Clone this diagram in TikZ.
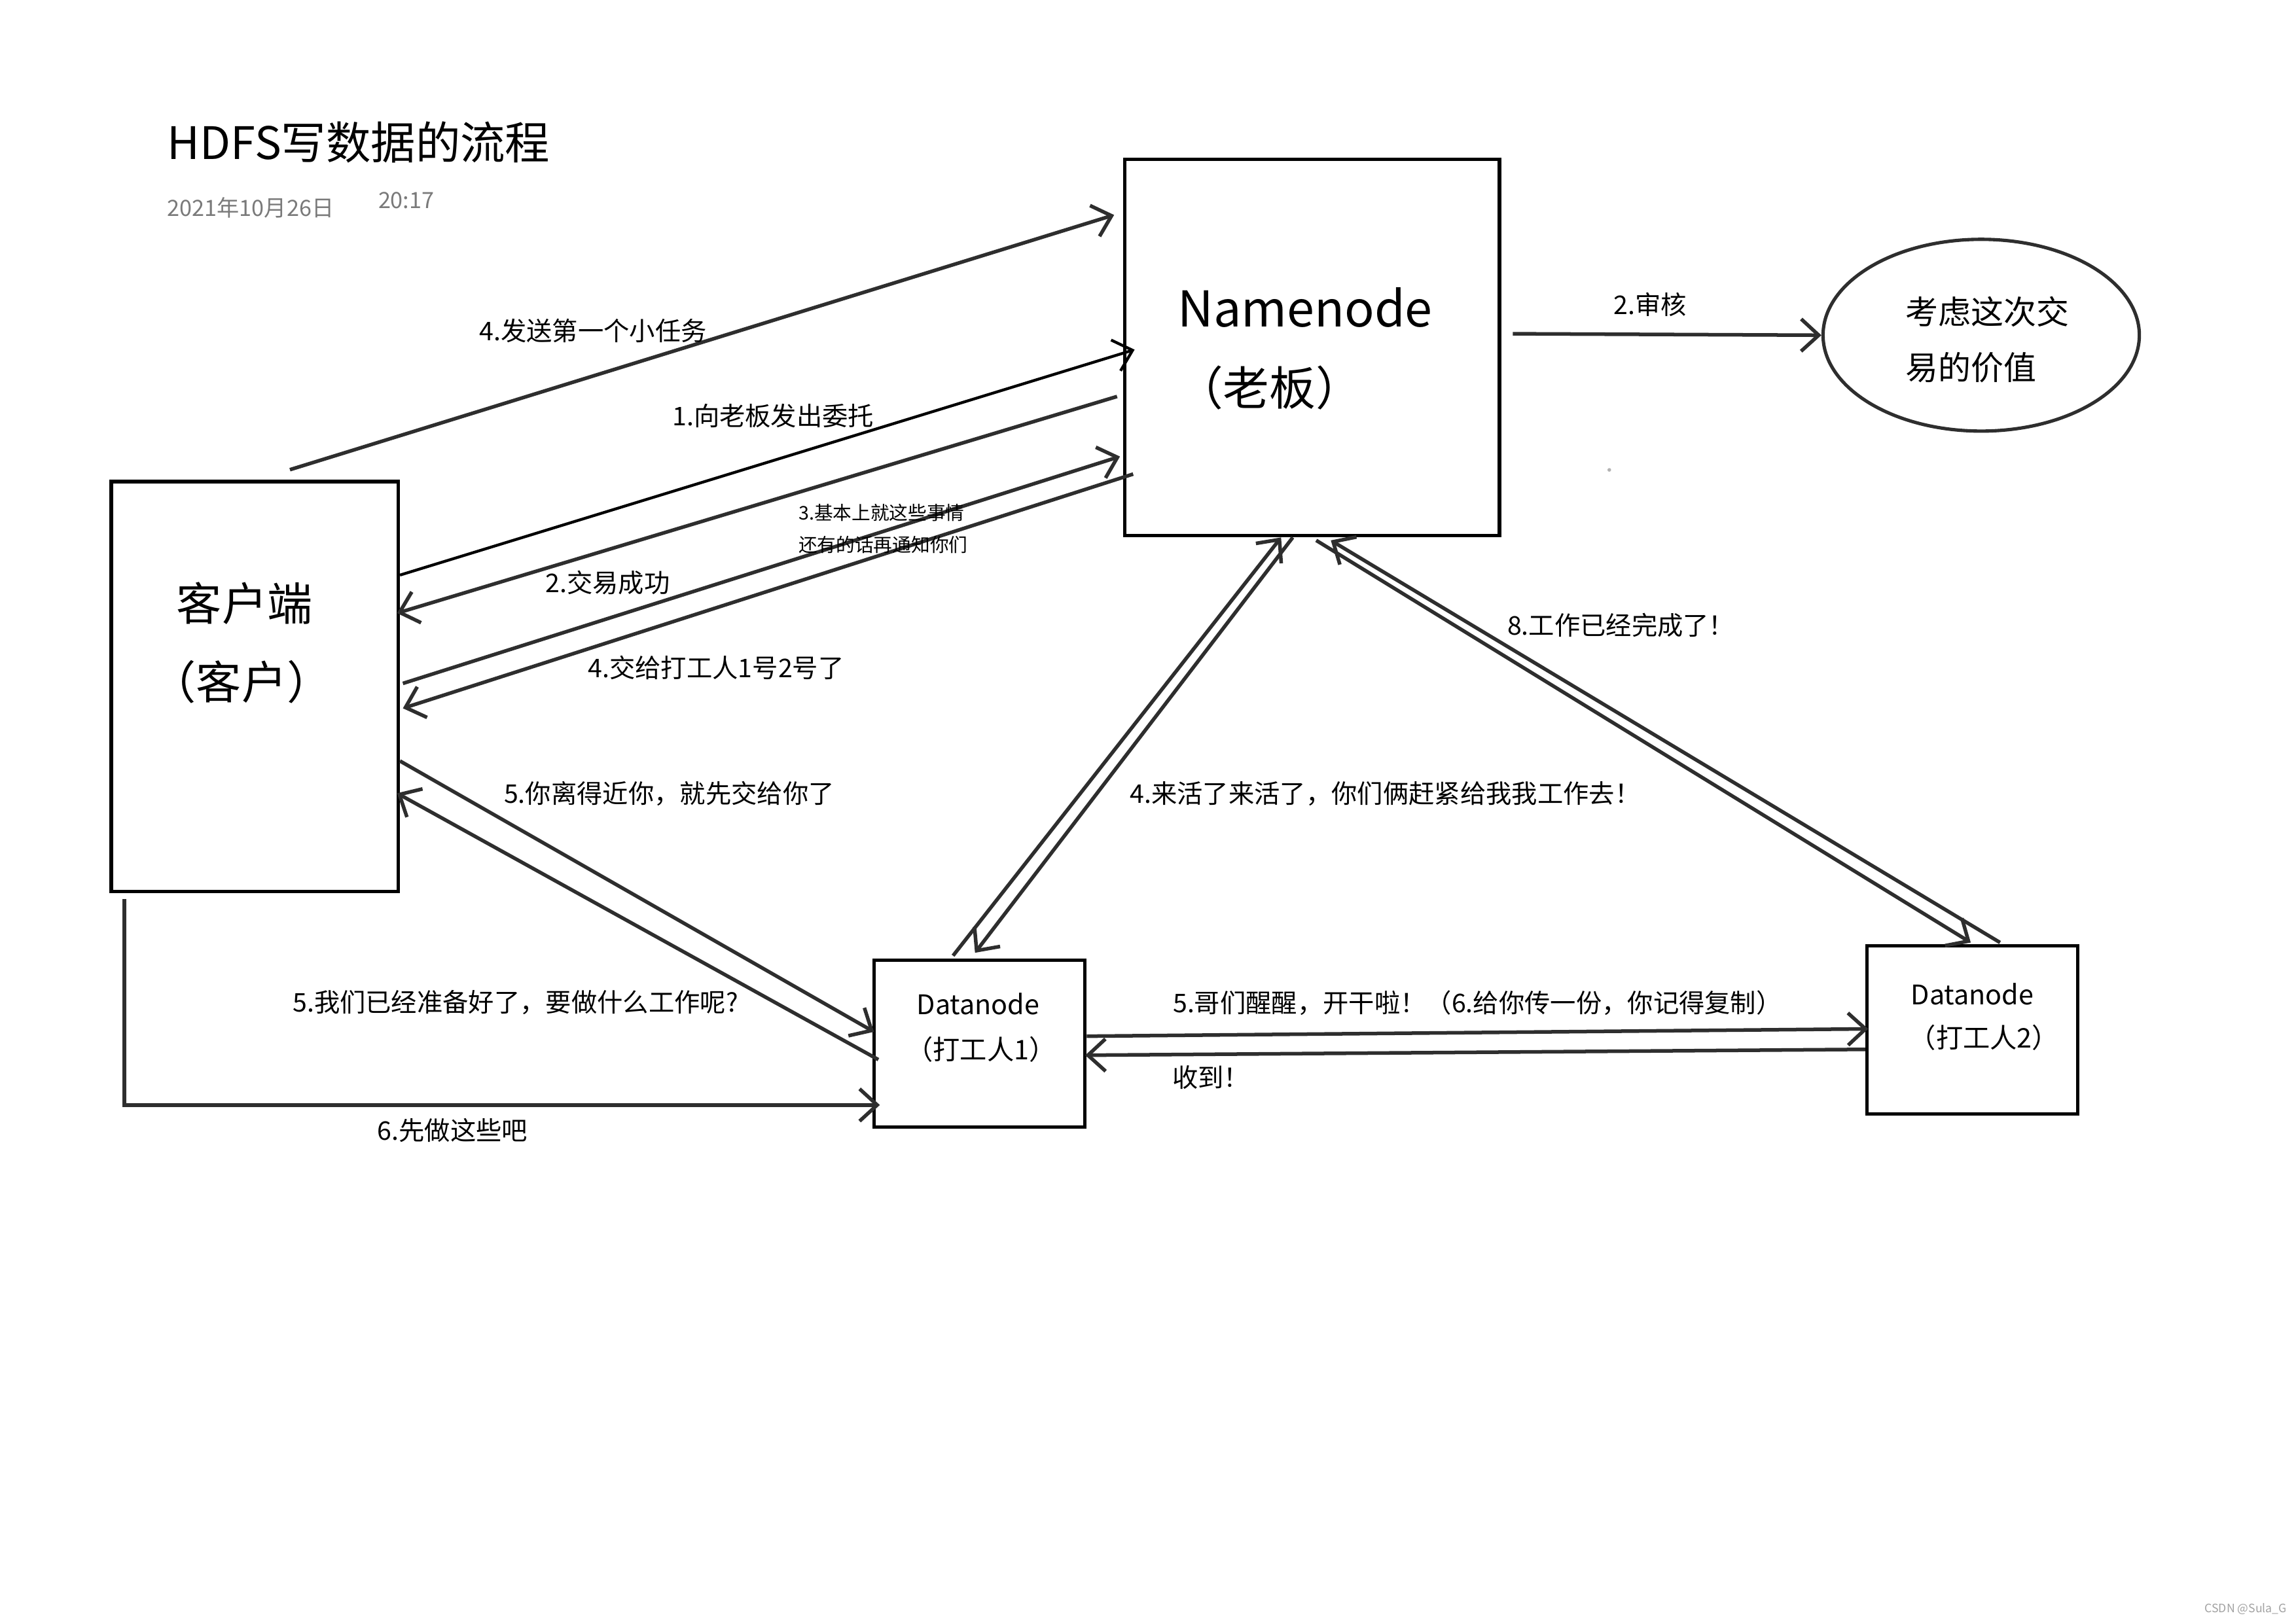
\documentclass[tikz,border=0pt]{standalone}
\usepackage{fontspec}
\newfontfamily\cjk{Noto Sans CJK SC}
\usetikzlibrary{arrows.meta,calc,shapes.geometric}
\definecolor{pline}{HTML}{2E2E2E}
\definecolor{pgray}{HTML}{7A7A7A}

\begin{document}
\begin{tikzpicture}[x=0.2mm,y=-0.2mm,font=\cjk\fontsize{10}{12}\selectfont,
  box/.style={rectangle,draw,line width=1.3pt,inner sep=0pt},
  lbl/.style={inner sep=0pt},
  ar/.style={-{Straight Barb[length=2.4mm,width=4.4mm]},line width=1.4pt,pline},
  arb/.style={-{Straight Barb[length=2.4mm,width=4.4mm]},line width=1.1pt,black}]
\fill[white] (0,0) rectangle (1568,1109);
\useasboundingbox (0,0) rectangle (1568,1109);
% --- heading ---
\node[lbl,anchor=west,font=\cjk\fontsize{17.4}{20}\selectfont] (title) at (114,97) {HDFS写数据的流程};
\node[lbl,anchor=west,text=pgray,font=\cjk\fontsize{8.7}{10}\selectfont] (date) at (114,142) {2021年10月26日};
\node[lbl,anchor=west,text=pgray,font=\cjk\fontsize{8.7}{10}\selectfont] (time) at (258,137) {20:17};
% --- boxes ---
\node[box,minimum width=39.2mm,minimum height=56mm] (client) at (174,469) {};
\node[box,minimum width=51.2mm,minimum height=51.4mm] (nn) at (896,237.5) {};
\node[box,minimum width=28.8mm,minimum height=22.8mm] (dn1) at (669,713) {};
\node[box,minimum width=28.8mm,minimum height=23mm] (dn2) at (1347,703.5) {};
\node[ellipse,draw,line width=1.3pt,pline,minimum width=43.2mm,minimum height=26.2mm] (ell) at (1353,229) {};
% --- box texts ---
\node[lbl,font=\cjk\fontsize{17.6}{20}\selectfont] (ctext) at (167,412) {客户端};
\node[lbl,font=\cjk\fontsize{17.6}{20}\selectfont] (crole) at (165,466) {（客户）};
\node[lbl,anchor=west,font=\cjk\fontsize{19.2}{23}\selectfont] (nntext) at (804,210) {Namenode};
\node[lbl,font=\cjk\fontsize{18}{22}\selectfont] (nnrole) at (867,265) {（老板）};
\node[lbl,anchor=west,align=left,font=\cjk\fontsize{12.7}{21.6}\selectfont] (elltext) at (1301,232) {考虑这次交\\易的价值};
\node[lbl,font=\cjk\fontsize{10.5}{12}\selectfont] (d1text) at (668,686) {Datanode};
\node[lbl,font=\cjk\fontsize{10.5}{12}\selectfont] (d1role) at (670,717) {（打工人1）};
\node[lbl,font=\cjk\fontsize{10.5}{12}\selectfont] (d2text) at (1347,679) {Datanode};
\node[lbl,font=\cjk\fontsize{10.5}{12}\selectfont] (d2role) at (1355,709) {（打工人2）};
% --- client <-> namenode ---
\draw[ar] ($(client.north)+(24,-7)$) -- ($(nn.north west)+(-6,39)$);
\draw[arb] ($(client.north east)+(0,65)$) -- ($(nn.north west)+(8,131)$);
\draw[ar] ($(nn.north west)+(-4,163)$) -- ($(client.north east)+(-2,91)$);
\draw[ar] ($(client.north east)+(2,139)$) -- ($(nn.north west)+(-2,204)$);
\draw[ar] ($(nn.north west)+(7,216)$) -- ($(client.north east)+(2,156)$);
\node[lbl] (l4a) at (405,226) {4.发送第一个小任务};
\node[lbl] (l1) at (528,284) {1.向老板发出委托};
\node[lbl] (l2) at (415,398) {2.交易成功};
\node[lbl,anchor=west,align=left,font=\cjk\fontsize{7.3}{12.5}\selectfont] (l3) at (545,361) {3.基本上就这些事情\\还有的话再通知你们};
\node[lbl] (l4b) at (489,456) {4.交给打工人1号2号了};
\draw[ar] ($(nn.east)+(8,-9.5)$) -- (ell.west);
\node[lbl] (l2b) at (1127,208) {2.审核};
% --- client <-> datanode 1 ---
\draw[ar] ($(client.north east)+(0,192)$) -- ($(dn1.north west)+(1,50)$);
\draw[ar] ($(dn1.north west)+(4,69)$) -- ($(client.north east)+(-2,214)$);
\draw[ar] ($(client.south west)+(10,4)$) |- ($(dn1.north west)+(5,100)$);
\node[lbl] (l5a) at (457,542) {5.你离得近你，就先交给你了};
\node[lbl] (l5b) at (352,685) {5.我们已经准备好了，要做什么工作呢?};
\node[lbl] (l6) at (309,772) {6.先做这些吧};
% --- namenode <-> datanodes ---
\draw[ar] ($(nn.south west)+(116,0)$) -- ($(dn1.north west)+(70,-4)$);
\draw[ar] ($(dn1.north west)+(55,-2)$) -- ($(nn.south west)+(108,0)$);
\draw[ar] ($(nn.south west)+(132,2)$) -- ($(dn2.north west)+(72,-1)$);
\draw[ar] ($(dn2.north west)+(92,-1)$) -- ($(nn.south west)+(142,2)$);
\node[lbl] (l4c) at (946,542) {4.来活了来活了，你们俩赶紧给我我工作去！};
\node[lbl] (l8) at (1107,427) {8.工作已经完成了！};
% --- datanode 1 <-> datanode 2 ---
\draw[ar] ($(dn1.north east)+(0,53)$) -- ($(dn2.north west)+(2,58)$);
\draw[ar] ($(dn2.north west)+(0,72)$) -- ($(dn1.north east)+(-1,66)$);
\node[lbl] (l5c) at (1009,685) {5.哥们醒醒，开干啦！（6.给你传一份，你记得复制）};
\node[lbl] (lok) at (827,736) {收到！};
% --- marks ---
\fill[gray!60] (1099,321) circle (0.25mm);
\node[lbl,anchor=east,text=pgray!70,font=\cjk\fontsize{4.5}{5}\selectfont] (mark) at (1562,1099) {CSDN @Sula\_G};
\end{tikzpicture}
\end{document}
